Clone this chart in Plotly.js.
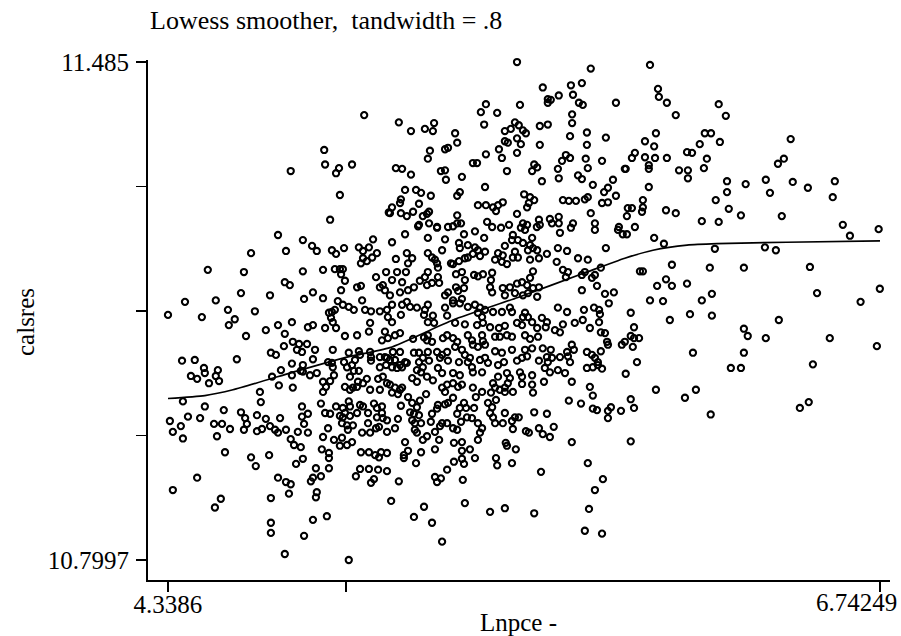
<!DOCTYPE html>
<html>
<head>
<meta charset="utf-8">
<script src="https://cdn.plot.ly/plotly-3.0.1.min.js"></script>
<style>html,body{margin:0;padding:0;background:#fff;}</style>
</head>
<body>
<div id="chart" style="width:901px;height:636px;"></div>
<script>
// Data: [Lnpce, calsres]
const ptsUpper = [
[5.001,11.412],[4.866,11.364],[4.869,11.344],[4.916,11.339],[4.906,11.332],[4.960,11.344],[4.753,11.335],[4.919,11.302],[4.886,11.268],[5.084,11.278],
[5.517,11.485],[5.766,11.476],[5.604,11.450],[5.699,11.453],[5.736,11.456],[5.658,11.439],[5.706,11.440],[5.621,11.434],[5.631,11.433],[5.621,11.429],
[5.726,11.429],[5.739,11.426],[5.851,11.429],[5.412,11.427],[5.527,11.426],[5.395,11.416],[5.450,11.415],[5.703,11.413],[5.118,11.402],[5.406,11.399],
[5.510,11.402],[5.523,11.398],[5.703,11.401],[5.594,11.397],[5.621,11.399],[5.159,11.390],[5.206,11.393],[5.233,11.390],[5.237,11.401],[5.476,11.390],
[5.496,11.393],[5.537,11.391],[5.547,11.387],[5.308,11.387],[5.696,11.383],[5.753,11.388],[5.817,11.381],[5.315,11.374],[5.476,11.376],[5.486,11.374],
[5.517,11.380],[5.530,11.372],[5.594,11.371],[5.753,11.371],[5.223,11.363],[5.216,11.352],[5.274,11.365],[5.284,11.367],[5.456,11.365],[5.412,11.358],
[5.517,11.360],[5.466,11.353],[5.368,11.346],[5.382,11.346],[5.575,11.344],[5.585,11.340],[5.669,11.349],[5.682,11.357],[5.696,11.353],[5.749,11.352],
[5.804,11.349],[5.756,11.339],[5.884,11.338],[5.108,11.339],[5.129,11.338],[5.159,11.330],[5.260,11.335],[5.274,11.336],[5.483,11.335],[5.568,11.335],
[5.655,11.338],[5.277,11.323],[5.331,11.327],[5.601,11.321],[5.658,11.325],[5.723,11.329],[5.736,11.324],[5.841,11.323],[5.773,11.316],[5.409,11.313],
[5.139,11.309],[5.176,11.309],[5.193,11.305],[5.226,11.301],[5.324,11.306],[5.315,11.301],[5.811,11.306],[5.824,11.312],[5.851,11.301],[5.541,11.303],
[5.561,11.299],[5.575,11.295],[5.095,11.285],[5.125,11.296],[5.122,11.291],[5.186,11.290],[5.385,11.288],[5.412,11.288],[5.436,11.285],[5.453,11.288],
[5.469,11.292],[5.551,11.285],[5.557,11.291],[5.672,11.295],[5.692,11.294],[5.716,11.294],[5.746,11.296],[5.756,11.299],[5.804,11.291],[5.824,11.292],
[5.891,11.284],[5.088,11.277],[5.125,11.277],[5.145,11.273],[5.166,11.279],[5.199,11.273],[5.213,11.276],[5.220,11.279],[5.446,11.280],[5.315,11.274],
[5.517,11.276],[5.766,11.277],[5.888,11.273],[5.186,11.261],[5.220,11.263],[5.247,11.258],[5.284,11.258],[5.301,11.259],[5.315,11.263],[5.328,11.263],
[5.416,11.265],[5.433,11.258],[5.490,11.261],[5.537,11.263],[5.551,11.261],[5.591,11.268],[5.594,11.261],[5.628,11.269],[5.635,11.263],[5.658,11.272],
[5.658,11.263],[5.706,11.263],[5.780,11.263],[5.861,11.258]
];
const ptsUpperRight = [
[5.966,11.481],[5.993,11.448],[5.996,11.437],[6.023,11.429],[6.198,11.427],[6.053,11.412],[6.222,11.411],[5.986,11.387],[6.151,11.387],[6.172,11.387],
[5.949,11.376],[5.980,11.369],[6.134,11.372],[6.202,11.375],[6.441,11.379],[5.915,11.360],[5.905,11.353],[5.949,11.354],[5.983,11.353],[6.023,11.353],
[6.091,11.361],[6.108,11.360],[6.158,11.352],[6.418,11.352],[6.398,11.345],[5.881,11.338],[5.962,11.343],[5.962,11.338],[6.064,11.336],[6.094,11.336],
[6.148,11.339],[6.094,11.325],[6.226,11.321],[6.289,11.317],[6.357,11.323],[6.448,11.320],[6.499,11.312],[6.590,11.321],[5.962,11.313],[6.226,11.306],
[6.371,11.305],[6.583,11.299],[5.942,11.295],[5.905,11.284],[5.942,11.285],[5.939,11.279],[6.020,11.281],[6.053,11.277],[6.188,11.295],[6.232,11.283],
[6.273,11.274],[6.411,11.273],[6.141,11.266],[6.198,11.265],[6.617,11.261],[6.738,11.255],[5.915,11.258]
];
const ptsMidRight = [
[5.874,11.248],[5.888,11.248],[5.980,11.243],[6.013,11.235],[6.641,11.246],[6.185,11.228],[6.354,11.230],[6.391,11.226],[5.932,11.197],[5.942,11.197],
[6.040,11.206],[6.168,11.202],[6.283,11.202],[6.506,11.203],[6.020,11.186],[5.990,11.177],[6.040,11.177],[6.091,11.180],[5.966,11.157],[6.010,11.156],
[6.141,11.157],[6.175,11.166],[6.530,11.167],[6.677,11.155],[6.742,11.173],[5.901,11.140],[6.033,11.130],[6.101,11.138],[6.175,11.136],[6.401,11.130],
[5.912,11.120],[5.901,11.108],[5.912,11.105],[5.929,11.105],[6.283,11.118],[6.296,11.108],[6.357,11.105],[6.573,11.105],[5.871,11.096],[5.908,11.093],
[6.111,11.085],[6.283,11.085],[6.732,11.094],[5.922,11.072],[5.884,11.056],[6.239,11.064],[6.273,11.064],[6.516,11.069],[5.986,11.034],[6.121,11.034]
];
const ptsLowRight = [
[6.084,11.023],[5.901,11.021],[5.912,11.009],[5.868,11.005],[6.171,11.000],[6.472,11.009],[6.502,11.017],[5.901,10.963]
];
const ptsLowMid = [
[5.095,11.030],[5.115,11.028],[5.122,11.034],[5.149,11.024],[5.210,11.028],[5.274,11.031],[5.301,11.023],[5.378,11.024],[5.429,11.030],[5.446,11.020],
[5.476,11.031],[5.571,11.030],[5.773,11.026],[5.692,11.019],[5.733,11.015],[5.773,11.008],[5.787,11.006],[5.834,11.010],[5.824,11.005],[5.824,10.995],
[5.125,11.012],[5.163,11.016],[5.179,11.010],[5.189,11.019],[5.250,11.013],[5.274,11.014],[5.284,11.016],[5.338,11.016],[5.324,11.009],[5.345,11.009],
[5.372,11.009],[5.419,11.016],[5.433,11.010],[5.156,11.003],[5.169,11.001],[5.186,10.999],[5.230,11.001],[5.247,11.008],[5.315,11.001],[5.348,10.996],
[5.365,10.995],[5.426,11.002],[5.436,10.996],[5.443,10.988],[5.476,11.002],[5.575,11.003],[5.618,11.001],[5.510,10.996],[5.523,10.996],[5.500,10.991],
[5.078,10.992],[5.115,10.994],[5.163,10.992],[5.172,10.988],[5.193,10.988],[5.226,10.990],[5.264,10.988],[5.281,10.988],[5.257,10.984],[5.328,10.990],
[5.469,10.988],[5.591,10.981],[5.641,10.983],[5.604,10.973],[5.628,10.969],[5.547,10.977],[5.557,10.975],[5.503,10.980],[5.399,10.981],[5.392,10.975],
[5.385,10.988],[5.301,10.981],[5.315,10.979],[5.240,10.976],[5.078,10.976],[5.105,10.981],[5.172,10.979],[5.179,10.975],[5.213,10.970],[5.199,10.965],
[5.254,10.965],[5.304,10.961],[5.331,10.962],[5.385,10.965],[5.479,10.961],[5.483,10.957],[5.139,10.962],[5.702,10.962],[5.078,10.947],[5.149,10.950],
[5.135,10.944],[5.135,10.940],[5.193,10.948],[5.240,10.952],[5.331,10.950],[5.358,10.952],[5.513,10.952],[5.176,10.933],[5.304,10.935],[5.338,10.932],
[5.331,10.939],[5.375,10.940],[5.446,10.940],[5.450,10.930],[5.500,10.933],[5.756,10.933],[5.078,10.922],[5.281,10.924],[5.598,10.921],[5.118,10.908],
[5.240,10.914],[5.260,10.912],[5.247,10.907],[5.334,10.910],[5.807,10.911],[5.780,10.896],[5.092,10.881],[5.341,10.878],[5.203,10.873],[5.476,10.871],
[5.426,10.866],[5.575,10.864],[5.760,10.870],[5.169,10.859],[5.230,10.851],[5.746,10.840],[5.804,10.836],[5.264,10.825]
];
const ptsLowLeft = [
[4.389,11.018],[4.463,11.011],[4.527,11.006],[4.585,11.003],[4.652,11.017],[4.639,10.999],[4.791,11.011],[4.811,11.001],[4.855,11.015],[4.886,11.001],
[4.906,11.011],[4.929,11.009],[4.949,11.018],[5.034,11.015],[5.061,11.011],[4.406,10.997],[4.447,10.995],[4.345,10.991],[4.382,10.984],[4.355,10.976],
[4.389,10.967],[4.494,10.987],[4.521,10.987],[4.548,10.980],[4.599,10.995],[4.605,10.987],[4.595,10.979],[4.669,10.994],[4.717,10.995],[4.737,10.979],
[4.791,10.997],[4.798,10.987],[4.777,10.976],[4.869,11.002],[4.929,10.996],[4.953,11.011],[4.987,11.013],[4.997,11.011],[4.919,10.998],[4.936,11.002],
[4.953,10.998],[4.977,11.002],[5.014,11.002],[5.044,11.009],[5.044,10.996],[5.064,10.995],[5.061,11.002],[4.926,10.988],[4.943,10.985],[4.963,10.985],
[5.014,10.988],[5.041,10.981],[4.683,10.984],[4.656,10.980],[4.639,10.977],[4.700,10.979],[4.710,10.975],[4.811,10.975],[4.879,10.981],[4.504,10.970],
[4.862,10.969],[4.899,10.965],[4.926,10.968],[4.960,10.962],[4.943,10.958],[4.919,10.957],[4.946,10.979],[4.994,10.975],[5.021,10.975],[5.051,10.983],
[4.753,10.966],[4.764,10.958],[4.787,10.955],[4.531,10.948],[4.619,10.941],[4.680,10.944],[4.635,10.929],[4.858,10.952],[4.882,10.947],[4.882,10.940],
[4.794,10.939],[4.771,10.932],[4.990,10.948],[5.017,10.948],[5.038,10.944],[5.058,10.948],[5.051,10.941],[4.987,10.925],[5.017,10.925],[5.048,10.924],
[4.838,10.926],[4.882,10.926],[4.973,10.915],[5.034,10.911],[5.024,10.906],[4.855,10.915],[4.828,10.913],[4.821,10.908],[4.710,10.913],[4.737,10.907],
[4.753,10.904],[4.747,10.891],[4.686,10.885],[4.838,10.886],[4.841,10.893],[4.437,10.913],[4.355,10.896],[4.517,10.884],[4.497,10.872],[4.875,10.860],
[4.828,10.855],[4.686,10.851],[4.686,10.837],[4.798,10.833],[4.733,10.808],[4.949,10.7997]
];
const ptsMidLeft = [
[4.710,11.247],[4.794,11.240],[4.825,11.232],[4.841,11.225],[4.892,11.226],[4.906,11.221],[4.933,11.229],[4.983,11.230],[4.997,11.225],[5.017,11.230],
[5.031,11.241],[5.044,11.222],[4.997,11.215],[4.990,11.208],[5.010,11.211],[5.028,11.216],[4.619,11.222],[4.737,11.225],[4.473,11.199],[4.595,11.196],
[4.794,11.197],[4.862,11.199],[4.902,11.200],[4.919,11.200],[4.929,11.200],[4.923,11.193],[5.041,11.189],[5.075,11.196],[4.733,11.182],[4.750,11.178],
[4.936,11.184],[4.977,11.175],[4.990,11.177],[4.923,11.171],[5.054,11.175],[5.064,11.178],[5.071,11.171],[4.396,11.155],[4.500,11.157],[4.585,11.167],
[4.683,11.164],[4.828,11.168],[4.798,11.159],[4.862,11.160],[4.912,11.156],[4.929,11.151],[4.949,11.148],[4.966,11.144],[4.994,11.157],[5.004,11.144],
[5.024,11.142],[5.054,11.142],[5.078,11.144],[4.3386,11.137],[4.453,11.134],[4.541,11.144],[4.632,11.142],[4.564,11.131],[4.544,11.123],[4.882,11.140],
[4.892,11.141],[4.902,11.144],[4.889,11.133],[4.895,11.127],[4.906,11.119],[4.710,11.123],[4.757,11.127],[4.811,11.120],[4.828,11.123],[4.869,11.119],
[5.021,11.126],[5.071,11.114],[4.602,11.108],[4.669,11.116],[4.733,11.111],[4.936,11.108],[4.977,11.109],[5.017,11.114],[5.061,11.102],[4.760,11.100],
[4.781,11.097],[4.808,11.097],[4.774,11.089],[4.791,11.086],[4.730,11.094],[4.686,11.085],[4.703,11.082],[4.835,11.089],[4.895,11.089],[4.949,11.085],
[4.983,11.087],[4.987,11.082],[5.021,11.086],[5.024,11.079],[4.970,11.075],[4.828,11.076],[4.794,11.068],[4.787,11.060],[4.757,11.070],[4.879,11.072],
[4.892,11.071],[4.895,11.065],[4.933,11.072],[4.943,11.065],[4.960,11.068],[4.966,11.060],[4.983,11.060],[5.024,11.074],[5.054,11.079],[5.078,11.078],
[5.075,11.068],[5.054,11.065],[4.386,11.074],[4.429,11.075],[4.571,11.076],[4.460,11.064],[4.463,11.057],[4.507,11.061],[4.500,11.053],[4.416,11.053],
[4.437,11.049],[4.477,11.043],[4.511,11.046],[4.720,11.061],[4.757,11.054],[4.794,11.059],[4.818,11.054],[4.841,11.057],[4.899,11.054],[4.886,11.046],
[4.862,11.045],[4.953,11.052],[5.010,11.049],[4.997,11.043],[4.980,11.045],[5.048,11.049],[5.064,11.052],[5.078,11.043],[4.690,11.052],[4.713,11.040],
[4.760,11.037],[4.649,11.031],[4.936,11.038],[4.953,11.034],[4.963,11.037],[4.977,11.038],[5.021,11.034],[5.054,11.034],[4.862,11.031],[4.872,11.038]
];
const ptsCenter = [
[5.139,11.248],[5.183,11.259],[5.247,11.257],[5.338,11.248],[5.375,11.252],[5.463,11.257],[5.503,11.247],[5.530,11.257],[5.544,11.254],[5.584,11.258],
[5.662,11.250],[5.699,11.257],[5.780,11.254],[5.858,11.254],[5.095,11.237],[5.216,11.243],[5.274,11.241],[5.321,11.236],[5.324,11.229],[5.351,11.233],
[5.375,11.230],[5.385,11.226],[5.409,11.224],[5.406,11.243],[5.476,11.232],[5.500,11.240],[5.520,11.240],[5.537,11.236],[5.568,11.243],[5.561,11.233],
[5.571,11.229],[5.585,11.226],[5.554,11.226],[5.655,11.229],[5.686,11.225],[5.817,11.229],[5.145,11.222],[5.108,11.214],[5.163,11.215],[5.149,11.208],
[5.216,11.222],[5.230,11.216],[5.240,11.213],[5.247,11.208],[5.264,11.226],[5.294,11.208],[5.321,11.211],[5.341,11.215],[5.351,11.216],[5.368,11.221],
[5.392,11.218],[5.443,11.213],[5.466,11.210],[5.483,11.207],[5.453,11.222],[5.469,11.219],[5.510,11.224],[5.520,11.216],[5.503,11.216],[5.561,11.213],
[5.591,11.215],[5.618,11.221],[5.651,11.210],[5.723,11.215],[5.756,11.213],[5.112,11.196],[5.142,11.196],[5.206,11.189],[5.216,11.196],[5.250,11.202],
[5.250,11.189],[5.301,11.207],[5.311,11.193],[5.331,11.196],[5.341,11.185],[5.372,11.192],[5.385,11.190],[5.402,11.193],[5.433,11.195],[5.429,11.185],
[5.571,11.197],[5.672,11.199],[5.689,11.196],[5.682,11.189],[5.736,11.192],[5.746,11.196],[5.780,11.192],[5.770,11.188],[5.800,11.202],[5.095,11.185],
[5.129,11.182],[5.189,11.184],[5.213,11.178],[5.230,11.181],[5.254,11.181],[5.169,11.175],[5.149,11.171],[5.122,11.168],[5.088,11.164],[5.311,11.175],
[5.318,11.170],[5.338,11.174],[5.284,11.168],[5.274,11.164],[5.301,11.157],[5.331,11.159],[5.426,11.175],[5.433,11.168],[5.469,11.174],[5.493,11.175],
[5.517,11.180],[5.534,11.182],[5.561,11.188],[5.551,11.178],[5.571,11.174],[5.591,11.175],[5.476,11.164],[5.510,11.167],[5.537,11.164],[5.554,11.167],
[5.585,11.162],[5.736,11.171],[5.787,11.177],[5.814,11.166],[5.844,11.168],[5.827,11.153],[5.095,11.151],[5.129,11.151],[5.145,11.155],[5.156,11.148],
[5.179,11.147],[5.216,11.151],[5.206,11.144],[5.274,11.147],[5.301,11.153],[5.324,11.153],[5.351,11.148],[5.375,11.151],[5.392,11.147],[5.409,11.144],
[5.385,11.140],[5.399,11.134],[5.436,11.141],[5.466,11.141],[5.493,11.147],[5.500,11.141],[5.544,11.140],[5.554,11.134],[5.537,11.134],[5.601,11.133],
[5.618,11.127],[5.614,11.120],[5.655,11.147],[5.686,11.141],[5.743,11.144],[5.777,11.147],[5.794,11.144],[5.797,11.138],[5.672,11.124],[5.712,11.126],
[5.739,11.130],[5.794,11.127],[5.081,11.134],[5.125,11.137],[5.095,11.127],[5.203,11.137],[5.233,11.136],[5.216,11.127],[5.237,11.126],[5.281,11.136],
[5.308,11.126],[5.341,11.124],[5.382,11.123],[5.402,11.126],[5.426,11.120],[5.456,11.119],[5.476,11.122],[5.517,11.126],[5.534,11.123],[5.568,11.127],
[5.585,11.119],[5.645,11.116],[5.662,11.113],[5.763,11.119],[5.800,11.113],[5.814,11.112],[5.122,11.112],[5.081,11.105],[5.105,11.109],[5.166,11.104],
[5.203,11.106],[5.216,11.109],[5.213,11.102],[5.230,11.100],[5.267,11.105],[5.281,11.109],[5.301,11.105],[5.315,11.100],[5.351,11.109],[5.365,11.102],
[5.399,11.109],[5.402,11.101],[5.443,11.107],[5.459,11.107],[5.483,11.109],[5.500,11.107],[5.544,11.109],[5.561,11.104],[5.588,11.107],[5.604,11.091],
[5.631,11.089],[5.702,11.096],[5.686,11.086],[5.709,11.089],[5.821,11.100],[5.824,11.096],[5.800,11.087],[5.881,11.100],[5.098,11.086],[5.122,11.086],
[5.169,11.085],[5.186,11.085],[5.216,11.086],[5.247,11.086],[5.264,11.082],[5.281,11.086],[5.308,11.093],[5.331,11.089],[5.341,11.082],[5.368,11.096],
[5.385,11.093],[5.409,11.096],[5.443,11.087],[5.466,11.085],[5.500,11.089],[5.544,11.089],[5.568,11.091],[5.071,11.079],[5.088,11.075],[5.105,11.075],
[5.139,11.072],[5.122,11.068],[5.186,11.072],[5.199,11.078],[5.220,11.074],[5.199,11.065],[5.257,11.078],[5.284,11.074],[5.321,11.072],[5.351,11.072],
[5.358,11.078],[5.392,11.075],[5.409,11.078],[5.419,11.071],[5.453,11.068],[5.473,11.072],[5.517,11.074],[5.534,11.078],[5.551,11.080],[5.591,11.074],
[5.618,11.079],[5.635,11.078],[5.621,11.072],[5.662,11.079],[5.689,11.080],[5.696,11.072],[5.753,11.086],[5.770,11.082],[5.780,11.078],[5.790,11.072],
[5.753,11.064],[5.773,11.065],[5.790,11.068],[5.804,11.063],[5.095,11.065],[5.112,11.064],[5.129,11.065],[5.145,11.071],[5.179,11.061],[5.193,11.058],
[5.250,11.064],[5.264,11.057],[5.301,11.057],[5.324,11.054],[5.365,11.065],[5.368,11.058],[5.399,11.058],[5.453,11.052],[5.483,11.057],[5.493,11.050],
[5.486,11.043],[5.527,11.058],[5.534,11.052],[5.568,11.054],[5.611,11.064],[5.628,11.058],[5.655,11.061],[5.679,11.057],[5.088,11.041],[5.105,11.037],
[5.129,11.037],[5.163,11.050],[5.179,11.045],[5.213,11.052],[5.233,11.047],[5.264,11.037],[5.281,11.041],[5.301,11.043],[5.318,11.038],[5.331,11.041],
[5.368,11.037],[5.399,11.031],[5.436,11.043],[5.443,11.037],[5.459,11.034],[5.476,11.037],[5.503,11.031],[5.534,11.042],[5.568,11.041],[5.608,11.045],
[5.702,11.045],[5.763,11.038]
];

// Lowess smoother (bandwidth .8)
const lowessX = [4.3386,4.463,4.558,4.784,4.943,5.088,5.301,5.520,5.746,5.881,5.976,6.091,6.192,6.428,6.74249];
const lowessY = [11.022,11.026,11.034,11.061,11.079,11.092,11.130,11.161,11.195,11.215,11.226,11.233,11.235,11.237,11.239];

// Axis ticks (the max label is drawn flush with the right edge, as in the original)
const xTickVals = [4.3386, 4.9396, 6.74249];
const xTickText = ['4.3386', '', ''];
const xMaxLabel = '6.74249';
const yTickVals = [10.7997, 10.97103, 11.14235, 11.31368, 11.485];
const yTickText = ['10.7997', '', '', '', '11.485'];

const allPts = [].concat(ptsUpper, ptsUpperRight, ptsMidRight, ptsLowRight, ptsLowMid, ptsLowLeft, ptsMidLeft, ptsCenter);
const px = allPts.map(p => p[0]);
const py = allPts.map(p => p[1]);

const serif = 'Liberation Serif, Times New Roman, serif';

const traces = [
  {
    type: 'scatter', mode: 'markers', x: px, y: py,
    marker: {symbol: 'circle-open', size: 6.2, color: '#000', line: {width: 2.1, color: '#000'}},
    cliponaxis: false, hoverinfo: 'x+y', showlegend: false
  },
  {
    type: 'scatter', mode: 'lines', x: lowessX, y: lowessY,
    line: {color: '#000', width: 1.7, shape: 'spline', smoothing: 0.6},
    cliponaxis: false, showlegend: false
  }
];

const layout = {
  width: 901, height: 636,
  margin: {l: 148, r: 11, t: 60, b: 56},
  paper_bgcolor: '#fff', plot_bgcolor: '#fff',
  showlegend: false,
  title: {
    text: 'Lowess smoother,\u00a0 tandwidth = .8',
    font: {family: serif, size: 26, color: '#000'},
    x: 150/901, xanchor: 'left', xref: 'container',
    y: 1 - 20/636, yanchor: 'middle', yref: 'container'
  },
  xaxis: {
    range: [4.2711, 6.7763],
    showgrid: false, zeroline: false,
    showline: true, linecolor: '#000', linewidth: 2,
    ticks: 'outside', ticklen: 10, tickwidth: 1.5, tickcolor: '#000',
    tickvals: xTickVals, ticktext: xTickText,
    tickfont: {family: serif, size: 25, color: '#000'},
    ticklabelstandoff: -9,
    fixedrange: true
  },
  yaxis: {
    range: [10.7722, 11.4878],
    showgrid: false, zeroline: false,
    showline: true, linecolor: '#000', linewidth: 2,
    ticks: 'outside', ticklen: 10, tickwidth: 1.5, tickcolor: '#000',
    tickvals: yTickVals, ticktext: yTickText,
    tickfont: {family: serif, size: 25, color: '#000'},
    ticklabelstandoff: 2,
    fixedrange: true
  },
  annotations: [
    {text: xMaxLabel, xref: 'paper', yref: 'paper', x: (899-148)/742, y: (580-602)/520,
     xanchor: 'right', yanchor: 'middle', showarrow: false,
     font: {family: serif, size: 25, color: '#000'}},
    {text: 'calsres', xref: 'paper', yref: 'paper', x: (25-148)/742, y: (580-322)/520,
     xanchor: 'center', yanchor: 'middle', textangle: -90, showarrow: false,
     font: {family: serif, size: 25, color: '#000'}},
    {text: 'Lnpce -', xref: 'paper', yref: 'paper', x: (518-148)/742, y: (580-622)/520,
     xanchor: 'center', yanchor: 'middle', showarrow: false,
     font: {family: serif, size: 25, color: '#000'}}
  ]
};

Plotly.newPlot('chart', traces, layout, {displayModeBar: false, staticPlot: true});
</script>
</body>
</html>
